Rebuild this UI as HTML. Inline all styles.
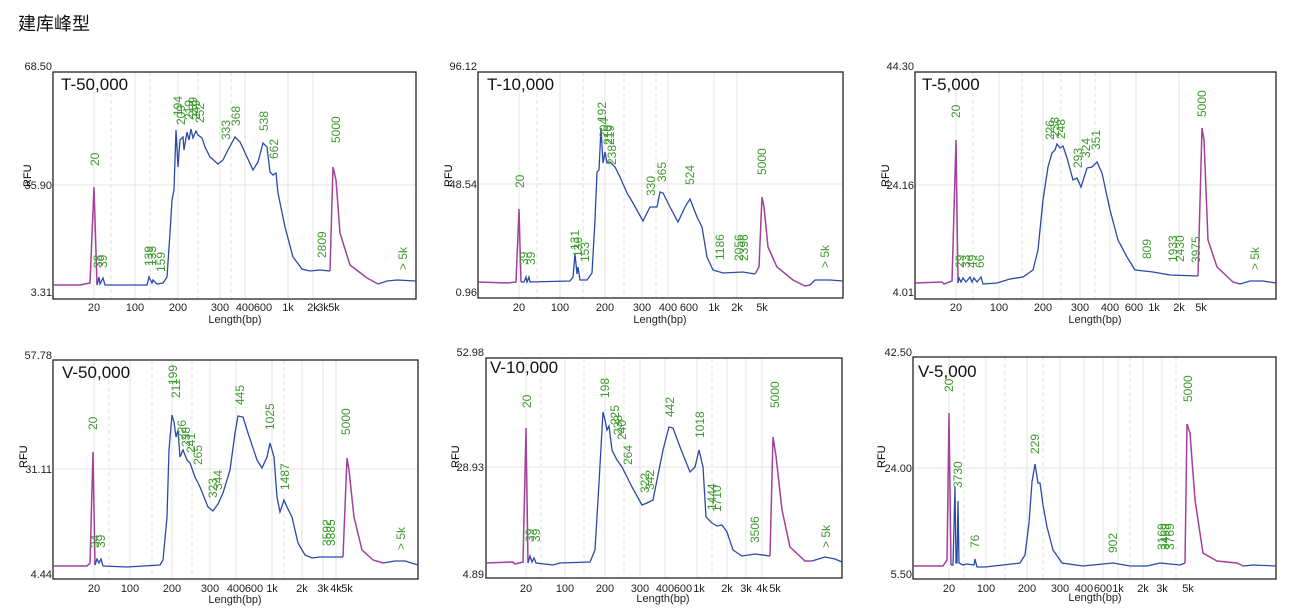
<!DOCTYPE html>
<html><head><meta charset="utf-8"><style>
html,body{margin:0;padding:0;background:#fff;width:1293px;height:615px;overflow:hidden}
svg{display:block;font-family:"Liberation Sans","Noto Sans CJK SC",sans-serif}
.bx{fill:none;stroke:#222;stroke-width:1.3}
.g{stroke:#e4e4e4;stroke-width:1}
.gd{stroke:#e0e0e0;stroke-width:1;stroke-dasharray:4,3}
.b{fill:none;stroke:#2a4aa8;stroke-width:1.3}
.m{fill:none;stroke:#a3409c;stroke-width:1.5}
.yl{font-size:11px;fill:#222;text-anchor:end}
.xl{font-size:11px;fill:#222;text-anchor:middle}
.t{font-size:17px;fill:#111}
.l text{font-size:12px;fill:#3c9a2c}
</style></head><body>
<svg width="1293" height="615" viewBox="0 0 1293 615">
<text x="18" y="30" font-size="18" fill="#111">建库峰型</text>

<!-- P1 -->
<g>
<line class="g" x1="53" y1="185" x2="416" y2="185"/>
<g class="g"><line x1="94" y1="72" x2="94" y2="299"/><line x1="135" y1="72" x2="135" y2="299"/><line x1="178" y1="72" x2="178" y2="299"/><line x1="220" y1="72" x2="220" y2="299"/><line x1="245" y1="72" x2="245" y2="299"/><line x1="288" y1="72" x2="288" y2="299"/><line x1="313" y1="72" x2="313" y2="299"/></g>
<g class="gd"><line x1="111" y1="72" x2="111" y2="299"/><line x1="150" y1="72" x2="150" y2="299"/><line x1="198" y1="72" x2="198" y2="299"/><line x1="231" y1="72" x2="231" y2="299"/></g>
<rect class="bx" x="53" y="72" width="363" height="227"/>
<text class="t" x="61" y="90">T-50,000</text>
<text class="yl" x="52" y="70">68.50</text><text class="yl" x="52" y="189">35.90</text><text class="yl" x="52" y="296">3.31</text>
<text font-size="11" transform="translate(31,187) rotate(-90)">RFU</text>
<g class="xl"><text x="94" y="311">20</text><text x="135" y="311">100</text><text x="178" y="311">200</text><text x="220" y="311">300</text><text x="245" y="311">400</text><text x="263" y="311">600</text><text x="288" y="311">1k</text><text x="313" y="311">2k</text><text x="323" y="311">3k</text><text x="334" y="311">5k</text></g>
<text class="xl" x="235" y="323">Length(bp)</text>
<polyline class="m" points="53,285 70,285 80,285 90,283 94,187 97,285"/>
<polyline class="b" points="97,285 99,277 100,284 103,278 105,285 110,285 147,285 149,277 152,283 153,280 157,284 163,283 167,277 170,233 172,200 174,190 176,130 178,167 180,140 183,137 184,150 187,132 189,140 191,129 193,138 196,131 198,135 202,138 205,147 210,157 218,164 223,160 228,150 235,137 240,142 247,157 253,170 258,162 263,143 267,147 270,172 273,175 276,173 278,193 285,227 293,257 302,269 310,271 320,270 330,271"/>
<polyline class="m" points="330,271 333,167 336,180 340,233 350,265 367,278 378,284"/>
<polyline class="b" points="378,284 387,281 397,280 416,281"/>
<g class="l">
<text transform="translate(99,166) rotate(-90)">20</text>
<text transform="translate(102,268) rotate(-90)">38</text><text transform="translate(107,268) rotate(-90)">39</text>
<text transform="translate(153,266) rotate(-90)">139</text><text transform="translate(156,266) rotate(-90)">135</text><text transform="translate(165,272) rotate(-90)">159</text>
<text transform="translate(182,116) rotate(-90)">194</text><text transform="translate(185,125) rotate(-90)">209</text><text transform="translate(193,120) rotate(-90)">219</text><text transform="translate(197,117) rotate(-90)">239</text><text transform="translate(200,120) rotate(-90)">249</text><text transform="translate(204,123) rotate(-90)">252</text>
<text transform="translate(230,140) rotate(-90)">333</text><text transform="translate(240,126) rotate(-90)">368</text>
<text transform="translate(268,131) rotate(-90)">538</text><text transform="translate(278,159) rotate(-90)">662</text>
<text transform="translate(326,258) rotate(-90)">2809</text><text transform="translate(340,143) rotate(-90)">5000</text><text transform="translate(407,270) rotate(-90)">&gt; 5k</text>
</g>
</g>

<!-- P2 -->
<g>
<line class="g" x1="478" y1="184" x2="843" y2="184"/>
<g class="g"><line x1="519" y1="72" x2="519" y2="298"/><line x1="560" y1="72" x2="560" y2="298"/><line x1="605" y1="72" x2="605" y2="298"/><line x1="642" y1="72" x2="642" y2="298"/><line x1="668" y1="72" x2="668" y2="298"/><line x1="714" y1="72" x2="714" y2="298"/><line x1="737" y1="72" x2="737" y2="298"/></g>
<g class="gd"><line x1="537" y1="72" x2="537" y2="298"/><line x1="583" y1="72" x2="583" y2="298"/><line x1="624" y1="72" x2="624" y2="298"/><line x1="656" y1="72" x2="656" y2="298"/></g>
<rect class="bx" x="478" y="72" width="365" height="226"/>
<text class="t" x="487" y="90">T-10,000</text>
<text class="yl" x="477" y="70">96.12</text><text class="yl" x="477" y="188">48.54</text><text class="yl" x="477" y="296">0.96</text>
<text font-size="11" transform="translate(452,187) rotate(-90)">RFU</text>
<g class="xl"><text x="519" y="311">20</text><text x="560" y="311">100</text><text x="605" y="311">200</text><text x="642" y="311">300</text><text x="668" y="311">400</text><text x="689" y="311">600</text><text x="714" y="311">1k</text><text x="737" y="311">2k</text><text x="762" y="311">5k</text></g>
<text class="xl" x="660" y="323">Length(bp)</text>
<polyline class="m" points="478,282 507,283 516,282 519,209 521,282"/>
<polyline class="b" points="521,282 524,282 526,277 527,282 529,277 530,282 570,281 573,277 575,254 577,274 578,267 580,280 587,280 592,273 595,220 597,172 599,170 601,128 603,163 605,152 607,163 610,162 615,167 620,177 627,193 633,203 643,221 650,207 657,207 660,192 663,193 670,207 678,222 685,207 690,199 697,217 702,227 707,257 713,270 723,273 743,272 755,274"/>
<polyline class="m" points="755,274 759,267 762,197 764,207 768,247 777,267 793,280 805,286 810,285"/>
<polyline class="b" points="810,285 815,280 830,280 843,281"/>
<g class="l">
<text transform="translate(524,188) rotate(-90)">20</text>
<text transform="translate(528,265) rotate(-90)">39</text><text transform="translate(535,265) rotate(-90)">39</text>
<text transform="translate(579,250) rotate(-90)">131</text><text transform="translate(582,257) rotate(-90)">136</text><text transform="translate(589,262) rotate(-90)">153</text>
<text transform="translate(606,122) rotate(-90)">192</text><text transform="translate(608,138) rotate(-90)">204</text><text transform="translate(612,145) rotate(-90)">210</text><text transform="translate(614,145) rotate(-90)">219</text><text transform="translate(616,165) rotate(-90)">238</text>
<text transform="translate(655,196) rotate(-90)">330</text><text transform="translate(666,182) rotate(-90)">365</text><text transform="translate(694,185) rotate(-90)">524</text>
<text transform="translate(724,260) rotate(-90)">1186</text><text transform="translate(743,261) rotate(-90)">2056</text><text transform="translate(748,261) rotate(-90)">2396</text>
<text transform="translate(766,175) rotate(-90)">5000</text><text transform="translate(829,268) rotate(-90)">&gt; 5k</text>
</g>
</g>

<!-- P3 -->
<g>
<line class="g" x1="915" y1="185" x2="1276" y2="185"/>
<g class="g"><line x1="956" y1="72" x2="956" y2="299"/><line x1="999" y1="72" x2="999" y2="299"/><line x1="1043" y1="72" x2="1043" y2="299"/><line x1="1080" y1="72" x2="1080" y2="299"/><line x1="1110" y1="72" x2="1110" y2="299"/><line x1="1136" y1="72" x2="1136" y2="299"/><line x1="1179" y1="72" x2="1179" y2="299"/></g>
<g class="gd"><line x1="973" y1="72" x2="973" y2="299"/><line x1="1022" y1="72" x2="1022" y2="299"/><line x1="1061" y1="72" x2="1061" y2="299"/><line x1="1095" y1="72" x2="1095" y2="299"/></g>
<rect class="bx" x="915" y="72" width="361" height="227"/>
<text class="t" x="922" y="90">T-5,000</text>
<text class="yl" x="914" y="70">44.30</text><text class="yl" x="914" y="189">24.16</text><text class="yl" x="914" y="296">4.01</text>
<text font-size="11" transform="translate(889,187) rotate(-90)">RFU</text>
<g class="xl"><text x="956" y="311">20</text><text x="999" y="311">100</text><text x="1043" y="311">200</text><text x="1080" y="311">300</text><text x="1110" y="311">400</text><text x="1134" y="311">600</text><text x="1154" y="311">1k</text><text x="1179" y="311">2k</text><text x="1201" y="311">5k</text></g>
<text class="xl" x="1095" y="323">Length(bp)</text>
<polyline class="m" points="915,283 942,282 944,284 952,281 956,140 958,283"/>
<polyline class="b" points="958,283 959,278 961,282 963,278 966,282 970,277 972,282 974,278 977,282 981,277 983,284 997,283 1010,279 1023,277 1033,270 1038,250 1043,200 1048,167 1052,153 1055,150 1057,144 1060,148 1063,146 1067,158 1073,180 1077,178 1081,187 1087,168 1092,167 1097,162 1102,173 1110,210 1118,240 1127,257 1135,270 1153,272 1170,275 1198,276"/>
<polyline class="m" points="1198,276 1202,128 1204,140 1208,240 1217,267 1233,282 1240,284"/>
<polyline class="b" points="1240,284 1250,281 1263,281 1276,283"/>
<g class="l">
<text transform="translate(960,118) rotate(-90)">20</text>
<text transform="translate(964,268) rotate(-90)">29</text><text transform="translate(970,268) rotate(-90)">33</text><text transform="translate(976,268) rotate(-90)">49</text><text transform="translate(984,268) rotate(-90)">66</text>
<text transform="translate(1054,140) rotate(-90)">226</text><text transform="translate(1059,137) rotate(-90)">238</text><text transform="translate(1065,139) rotate(-90)">248</text>
<text transform="translate(1082,168) rotate(-90)">293</text><text transform="translate(1090,158) rotate(-90)">324</text><text transform="translate(1100,150) rotate(-90)">351</text>
<text transform="translate(1151,259) rotate(-90)">809</text><text transform="translate(1177,262) rotate(-90)">1933</text><text transform="translate(1184,262) rotate(-90)">2430</text><text transform="translate(1200,263) rotate(-90)">3975</text>
<text transform="translate(1206,117) rotate(-90)">5000</text><text transform="translate(1259,270) rotate(-90)">&gt; 5k</text>
</g>
</g>

<!-- P4 -->
<g>
<line class="g" x1="53" y1="469" x2="418" y2="469"/>
<g class="g"><line x1="94" y1="360" x2="94" y2="579"/><line x1="130" y1="360" x2="130" y2="579"/><line x1="172" y1="360" x2="172" y2="579"/><line x1="210" y1="360" x2="210" y2="579"/><line x1="236" y1="360" x2="236" y2="579"/><line x1="272" y1="360" x2="272" y2="579"/><line x1="302" y1="360" x2="302" y2="579"/><line x1="323" y1="360" x2="323" y2="579"/><line x1="336" y1="360" x2="336" y2="579"/></g>
<g class="gd"><line x1="109" y1="360" x2="109" y2="579"/><line x1="152" y1="360" x2="152" y2="579"/><line x1="192" y1="360" x2="192" y2="579"/><line x1="284" y1="360" x2="284" y2="579"/></g>
<rect class="bx" x="53" y="360" width="365" height="219"/>
<text class="t" x="62" y="378">V-50,000</text>
<text class="yl" x="52" y="359">57.78</text><text class="yl" x="52" y="473">31.11</text><text class="yl" x="52" y="578">4.44</text>
<text font-size="11" transform="translate(27,468) rotate(-90)">RFU</text>
<g class="xl"><text x="94" y="592">20</text><text x="130" y="592">100</text><text x="172" y="592">200</text><text x="210" y="592">300</text><text x="236" y="592">400</text><text x="254" y="592">600</text><text x="272" y="592">1k</text><text x="302" y="592">2k</text><text x="323" y="592">3k</text><text x="336" y="592">4k</text><text x="347" y="592">5k</text></g>
<text class="xl" x="235" y="603">Length(bp)</text>
<polyline class="m" points="53,566 87,566 90,563 93,452 95,565"/>
<polyline class="b" points="95,565 97,559 99,563 101,559 103,566 127,567 160,565 163,560 167,517 169,450 172,415 174,422 176,437 178,430 180,457 183,450 187,460 190,463 195,477 200,487 208,507 213,511 218,504 223,493 230,470 235,433 238,416 243,417 248,433 257,460 262,468 267,457 270,443 274,457 277,497 280,512 284,500 287,507 292,517 298,543 305,555 312,558 320,557 343,557"/>
<polyline class="m" points="343,557 347,458 349,470 354,517 362,550 373,560 383,563"/>
<polyline class="b" points="383,563 395,561 405,561 418,565"/>
<g class="l">
<text transform="translate(97,430) rotate(-90)">20</text>
<text transform="translate(99,548) rotate(-90)">34</text><text transform="translate(105,548) rotate(-90)">39</text>
<text transform="translate(177,385) rotate(-90)">199</text><text transform="translate(180,398) rotate(-90)">211</text>
<text transform="translate(186,440) rotate(-90)">226</text><text transform="translate(190,447) rotate(-90)">238</text><text transform="translate(195,453) rotate(-90)">241</text><text transform="translate(202,465) rotate(-90)">265</text>
<text transform="translate(217,498) rotate(-90)">323</text><text transform="translate(222,490) rotate(-90)">344</text>
<text transform="translate(244,405) rotate(-90)">445</text><text transform="translate(274,430) rotate(-90)">1025</text><text transform="translate(289,490) rotate(-90)">1487</text>
<text transform="translate(331,546) rotate(-90)">3592</text><text transform="translate(335,546) rotate(-90)">3885</text>
<text transform="translate(350,435) rotate(-90)">5000</text><text transform="translate(405,550) rotate(-90)">&gt; 5k</text>
</g>
</g>

<!-- P5 -->
<g>
<line class="g" x1="486" y1="467" x2="842" y2="467"/>
<g class="g"><line x1="526" y1="358" x2="526" y2="578"/><line x1="565" y1="358" x2="565" y2="578"/><line x1="605" y1="358" x2="605" y2="578"/><line x1="640" y1="358" x2="640" y2="578"/><line x1="665" y1="358" x2="665" y2="578"/><line x1="697" y1="358" x2="697" y2="578"/><line x1="727" y1="358" x2="727" y2="578"/><line x1="746" y1="358" x2="746" y2="578"/><line x1="762" y1="358" x2="762" y2="578"/></g>
<g class="gd"><line x1="541" y1="358" x2="541" y2="578"/><line x1="584" y1="358" x2="584" y2="578"/><line x1="624" y1="358" x2="624" y2="578"/><line x1="712" y1="358" x2="712" y2="578"/></g>
<rect class="bx" x="486" y="358" width="356" height="220"/>
<text class="t" x="490" y="373">V-10,000</text>
<text class="yl" x="484" y="356">52.98</text><text class="yl" x="484" y="471">28.93</text><text class="yl" x="484" y="578">4.89</text>
<text font-size="11" transform="translate(459,468) rotate(-90)">RFU</text>
<g class="xl"><text x="526" y="592">20</text><text x="565" y="592">100</text><text x="605" y="592">200</text><text x="640" y="592">300</text><text x="665" y="592">400</text><text x="683" y="592">600</text><text x="699" y="592">1k</text><text x="727" y="592">2k</text><text x="746" y="592">3k</text><text x="762" y="592">4k</text><text x="775" y="592">5k</text></g>
<text class="xl" x="663" y="602">Length(bp)</text>
<polyline class="m" points="486,563 513,562 515,564 523,562 526,428 528,563"/>
<polyline class="b" points="528,563 530,556 532,562 534,558 536,563 553,565 560,563 590,562 595,550 599,483 603,412 605,420 607,430 609,426 612,450 617,460 622,467 627,477 632,487 642,505 647,503 653,500 658,475 663,450 669,427 673,428 680,447 690,472 695,467 699,450 703,467 706,517 712,523 717,526 722,525 727,532 733,550 742,556 755,554 770,556"/>
<polyline class="m" points="770,556 773,437 776,456 782,510 790,547 805,561 812,561"/>
<polyline class="b" points="812,561 825,557 835,559 842,562"/>
<g class="l">
<text transform="translate(531,408) rotate(-90)">20</text>
<text transform="translate(534,542) rotate(-90)">39</text><text transform="translate(540,542) rotate(-90)">39</text>
<text transform="translate(609,398) rotate(-90)">198</text><text transform="translate(619,425) rotate(-90)">225</text><text transform="translate(622,435) rotate(-90)">238</text><text transform="translate(626,440) rotate(-90)">240</text><text transform="translate(632,465) rotate(-90)">264</text>
<text transform="translate(649,493) rotate(-90)">322</text><text transform="translate(654,490) rotate(-90)">342</text>
<text transform="translate(674,417) rotate(-90)">442</text><text transform="translate(704,438) rotate(-90)">1018</text>
<text transform="translate(716,510) rotate(-90)">1444</text><text transform="translate(721,512) rotate(-90)">1710</text><text transform="translate(759,543) rotate(-90)">3506</text>
<text transform="translate(779,408) rotate(-90)">5000</text><text transform="translate(830,548) rotate(-90)">&gt; 5k</text>
</g>
</g>

<!-- P6 -->
<g>
<line class="g" x1="913" y1="468" x2="1276" y2="468"/>
<g class="g"><line x1="949" y1="357" x2="949" y2="579"/><line x1="986" y1="357" x2="986" y2="579"/><line x1="1027" y1="357" x2="1027" y2="579"/><line x1="1060" y1="357" x2="1060" y2="579"/><line x1="1084" y1="357" x2="1084" y2="579"/><line x1="1103" y1="357" x2="1103" y2="579"/><line x1="1118" y1="357" x2="1118" y2="579"/><line x1="1143" y1="357" x2="1143" y2="579"/><line x1="1162" y1="357" x2="1162" y2="579"/></g>
<g class="gd"><line x1="964" y1="357" x2="964" y2="579"/><line x1="1005" y1="357" x2="1005" y2="579"/><line x1="1043" y1="357" x2="1043" y2="579"/><line x1="1130" y1="357" x2="1130" y2="579"/><line x1="1176" y1="357" x2="1176" y2="579"/></g>
<rect class="bx" x="913" y="357" width="363" height="222"/>
<text class="t" x="918" y="377">V-5,000</text>
<text class="yl" x="912" y="356">42.50</text><text class="yl" x="912" y="472">24.00</text><text class="yl" x="912" y="578">5.50</text>
<text font-size="11" transform="translate(885,468) rotate(-90)">RFU</text>
<g class="xl"><text x="949" y="592">20</text><text x="986" y="592">100</text><text x="1027" y="592">200</text><text x="1060" y="592">300</text><text x="1084" y="592">400</text><text x="1103" y="592">600</text><text x="1118" y="592">1k</text><text x="1143" y="592">2k</text><text x="1162" y="592">3k</text><text x="1188" y="592">5k</text></g>
<text class="xl" x="1095" y="601">Length(bp)</text>
<polyline class="m" points="913,566 943,566 947,560 949,413 951,565"/>
<polyline class="b" points="951,565 953,565 955,487 956,563 957,563 958,501 959,563 963,565 967,564 974,565 975,559 977,567 985,567 1003,565 1020,563 1025,555 1029,523 1032,482 1035,464 1038,483 1040,483 1043,505 1047,527 1053,550 1062,563 1083,566 1113,563 1130,566 1147,566 1160,563 1180,565 1185,563"/>
<polyline class="m" points="1185,563 1187,424 1190,433 1195,500 1203,553 1217,561 1237,563 1243,566"/>
<polyline class="b" points="1243,566 1253,565 1276,566"/>
<g class="l">
<text transform="translate(953,392) rotate(-90)">20</text><text transform="translate(962,488) rotate(-90)">3730</text>
<text transform="translate(979,548) rotate(-90)">76</text><text transform="translate(1039,454) rotate(-90)">229</text>
<text transform="translate(1117,553) rotate(-90)">902</text>
<text transform="translate(1166,550) rotate(-90)">3169</text><text transform="translate(1169,550) rotate(-90)">3469</text><text transform="translate(1174,550) rotate(-90)">3769</text>
<text transform="translate(1192,402) rotate(-90)">5000</text>
</g>
</g>
</svg>
</body></html>
